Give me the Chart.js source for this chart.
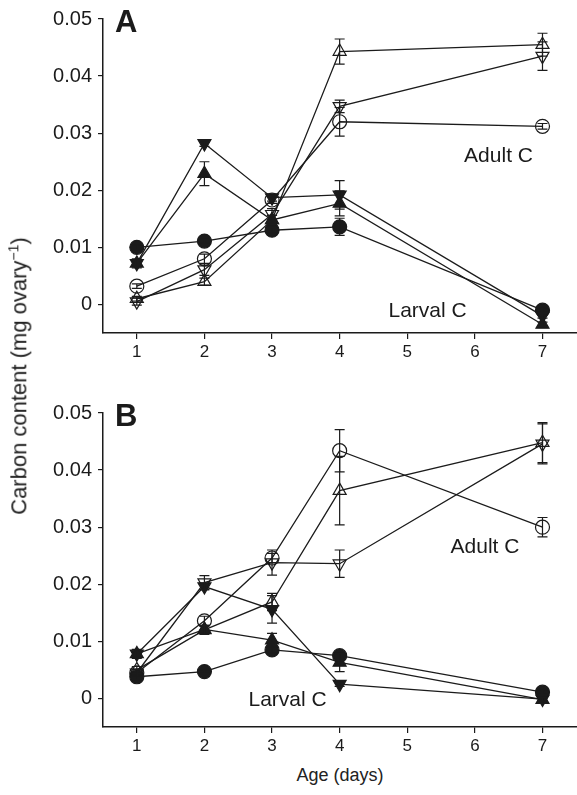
<!DOCTYPE html>
<html>
<head>
<meta charset="utf-8">
<script src="https://cdn.jsdelivr.net/npm/chart.js@4.4.0/dist/chart.umd.min.js"></script>
<style>
  body { margin: 0; background: #fff; width: 577px; height: 795px; position: relative; overflow: hidden;
         font-family: "Liberation Sans", Arial, sans-serif; color: #222; }
  .panel { position: absolute; left: 0; width: 585px; height: 370px; }
  #ytitle { position: absolute; left: 19px; top: 376px; transform: translate(-50%, -50%) rotate(-90deg);
            white-space: nowrap; font-size: 22px; }
  #ytitle sup { font-size: 14px; }
  #xtitle { position: absolute; left: 340px; top: 775px; transform: translate(-50%, -50%);
            white-space: nowrap; font-size: 18px; }
</style>
</head>
<body>
<div class="panel" style="top:0"><canvas id="chartA"></canvas></div>
<div class="panel" style="top:394px"><canvas id="chartB"></canvas></div>
<div id="ytitle">Carbon content (mg ovary<sup>−1</sup>)</div>
<div id="xtitle">Age (days)</div>
<script>
// sampling days
const days = [1, 2, 3, 4, 7];
const xTicks = [1, 2, 3, 4, 5, 6, 7];
const yTicks = [0, 0.01, 0.02, 0.03, 0.04, 0.05];

// Panel A values (mg ovary-1)
const aLarvalCircle = [0.0100, 0.0111, 0.0130, 0.0136, -0.0010];
const aLarvalUp     = [0.0072, 0.0229, 0.0148, 0.0177, -0.0035];
const aLarvalDown   = [0.0072, 0.0282, 0.0187, 0.0192, -0.0020];
const aAdultCircle  = [0.0032, 0.0080, 0.0183, 0.0320, 0.0312];
const aAdultUp      = [0.0010, 0.0040, 0.0148, 0.0443, 0.0455];
const aAdultDown    = [0.0005, 0.0061, 0.0158, 0.0347, 0.0435];
// Panel A error (+/-)
const aLarvalCircleErr = [0.0004, 0.0003, 0.0005, 0.0015, 0.0004];
const aLarvalUpErr     = [0.0005, 0.0021, 0.0008, 0.0022, 0.0004];
const aLarvalDownErr   = [0.0008, 0.0005, 0.0006, 0.0025, 0.0004];
const aAdultCircleErr  = [0.0004, 0.0008, 0.0006, 0.0025, 0.0005];
const aAdultUpErr      = [0.0004, 0.0006, 0.0008, 0.0022, 0.0020];
const aAdultDownErr    = [0.0006, 0.0010, 0.0010, 0.0011, 0.0025];

// Panel B values
const bLarvalCircle = [0.0038, 0.0047, 0.0085, 0.0075, 0.0011];
const bLarvalUp     = [0.0078, 0.0121, 0.0102, 0.0063, -0.0002];
const bLarvalDown   = [0.0078, 0.0196, 0.0156, 0.0025, -0.0001];
const bAdultCircle  = [0.0045, 0.0136, 0.0246, 0.0434, 0.0300];
const bAdultUp      = [0.0050, 0.0120, 0.0169, 0.0364, 0.0448];
const bAdultDown    = [0.0045, 0.0203, 0.0238, 0.0236, 0.0446];
// Panel B error (+/-)
const bLarvalCircleErr = [0.0005, 0.0003, 0.0005, 0.0005, 0.0004];
const bLarvalUpErr     = [0.0005, 0.0006, 0.0012, 0.0016, 0.0003];
const bLarvalDownErr   = [0.0008, 0.0006, 0.0024, 0.0004, 0.0003];
const bAdultCircleErr  = [0.0006, 0.0008, 0.0008, 0.0037, 0.0017];
const bAdultUpErr      = [0.0006, 0.0008, 0.0015, 0.0060, 0.0035];
const bAdultDownErr    = [0.0006, 0.0012, 0.0022, 0.0024, 0.0035];

const INK = '#1b1b1b';
const FONT = '"Liberation Sans", Arial, sans-serif';

// marker styles: filled = larval C, open = adult C
const markers = {
  circle: { pointStyle: 'circle', pointRadius: 7, pointRotation: 0 },
  up:     { pointStyle: 'triangle', pointRadius: 7.5, pointRotation: 0 },
  down:   { pointStyle: 'triangle', pointRadius: 7.5, pointRotation: 180 }
};

function series(values, errors, shape, filled) {
  return Object.assign({
    data: days.map((d, i) => ({ x: d, y: values[i] })),
    errors: errors,
    borderColor: INK,
    borderWidth: 1.3,
    pointBackgroundColor: filled ? INK : 'rgba(0,0,0,0)',
    pointBorderColor: INK,
    pointBorderWidth: 1.2,
    pointHoverRadius: 7,
    clip: false,
    tension: 0
  }, markers[shape]);
}

// draws vertical error bars with caps
const errorBars = {
  id: 'errorBars',
  afterDatasetsDraw(chart) {
    const ctx = chart.ctx, y = chart.scales.y, x = chart.scales.x;
    ctx.save();
    ctx.strokeStyle = INK;
    ctx.lineWidth = 1.2;
    chart.data.datasets.forEach(ds => {
      ds.data.forEach((p, i) => {
        const e = ds.errors[i];
        const px = x.getPixelForValue(p.x);
        const top = y.getPixelForValue(p.y + e), bot = y.getPixelForValue(p.y - e);
        ctx.beginPath();
        ctx.moveTo(px, top); ctx.lineTo(px, bot);
        ctx.moveTo(px - 5, top); ctx.lineTo(px + 5, top);
        ctx.moveTo(px - 5, bot); ctx.lineTo(px + 5, bot);
        ctx.stroke();
      });
    });
    ctx.restore();
  }
};

// panel letter and group labels
const notes = {
  id: 'notes',
  afterDraw(chart, args, opts) {
    const ctx = chart.ctx, x = chart.scales.x, y = chart.scales.y;
    ctx.save();
    ctx.fillStyle = INK;
    ctx.font = 'bold 31px ' + FONT;
    ctx.textBaseline = 'top';
    ctx.textAlign = 'left';
    ctx.fillText(opts.letter, chart.chartArea.left + 12, chart.chartArea.top - 11);
    ctx.font = '21px ' + FONT;
    ctx.textAlign = 'center';
    ctx.textBaseline = 'middle';
    opts.labels.forEach(l => ctx.fillText(l.text, x.getPixelForValue(l.x), y.getPixelForValue(l.y)));
    ctx.restore();
  }
};

function makePanel(id, letter, sets, labels) {
  return new Chart(document.getElementById(id), {
    type: 'line',
    data: { datasets: sets },
    plugins: [errorBars, notes],
    options: {
      responsive: true,
      maintainAspectRatio: false,
      animation: false,
      layout: { padding: { top: 19, right: 0, left: 0, bottom: 0 } },
      plugins: {
        legend: { display: false },
        tooltip: { enabled: false },
        notes: { letter: letter, labels: labels }
      },
      scales: {
        x: {
          type: 'linear', min: 0.5, max: 7.5,
          afterBuildTicks: s => { s.ticks = xTicks.map(v => ({ value: v })); },
          afterFit: s => { s.height = 37; },
          grid: { drawOnChartArea: false, tickLength: 6, color: INK, lineWidth: 1.2 },
          border: { display: true, color: INK, width: 1.5 },
          ticks: { color: INK, font: { family: FONT, size: 17 }, padding: 3 }
        },
        y: {
          type: 'linear', min: -0.005, max: 0.05,
          afterBuildTicks: s => { s.ticks = yTicks.map(v => ({ value: v })); },
          afterFit: s => { s.width = 103; },
          grid: { drawOnChartArea: false, tickLength: 5, color: INK, lineWidth: 1.2 },
          border: { display: true, color: INK, width: 1.5 },
          ticks: { color: INK, font: { family: FONT, size: 20 }, padding: 6,
                   callback: v => v === 0 ? '0' : v.toFixed(2) }
        }
      }
    }
  });
}

makePanel('chartA', 'A', [
  series(aLarvalCircle, aLarvalCircleErr, 'circle', true),
  series(aLarvalUp, aLarvalUpErr, 'up', true),
  series(aLarvalDown, aLarvalDownErr, 'down', true),
  series(aAdultCircle, aAdultCircleErr, 'circle', false),
  series(aAdultUp, aAdultUpErr, 'up', false),
  series(aAdultDown, aAdultDownErr, 'down', false)
], [
  { text: 'Adult C', x: 6.35, y: 0.0259 },
  { text: 'Larval C', x: 5.30, y: -0.0012 }
]);

makePanel('chartB', 'B', [
  series(bLarvalCircle, bLarvalCircleErr, 'circle', true),
  series(bLarvalUp, bLarvalUpErr, 'up', true),
  series(bLarvalDown, bLarvalDownErr, 'down', true),
  series(bAdultCircle, bAdultCircleErr, 'circle', false),
  series(bAdultUp, bAdultUpErr, 'up', false),
  series(bAdultDown, bAdultDownErr, 'down', false)
], [
  { text: 'Adult C', x: 6.15, y: 0.0265 },
  { text: 'Larval C', x: 3.23, y: -0.0003 }
]);
</script>
</body>
</html>
